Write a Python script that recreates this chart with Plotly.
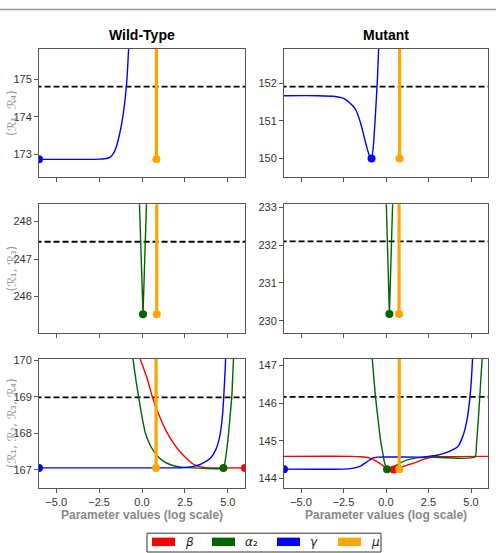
import plotly.graph_objects as go
from plotly.subplots import make_subplots

# ---------------- data ----------------
COL_TITLES = ["Wild-Type", "Mutant"]
ROW_LABELS = ["(ℛ₁, ℛ₄)", "(ℛ₁, ℛ₃)", "(ℛ₁, ℛ₂, ℛ₃, ℛ₄)"]
PARAMS = ["β", "α₂", "γ", "μ"]
X_TICKS = [-5.0, -2.5, 0.0, 2.5, 5.0]
X_TICK_LABELS = ["−5.0", "−2.5", "0.0", "2.5", "5.0"]

# thresholds (dashed lines)
THRESH = {(1, 1): 174.8, (1, 2): 151.91, (2, 1): 247.46, (2, 2): 232.10, (3, 1): 168.98, (3, 2): 146.17}

# Row 1, Wild-Type (R1,R4)
WT14_GAMMA_X = [-6.0, -4.0, -3.0, -2.5, -2.0, -1.85, -1.7, -1.5, -1.3, -1.1, -0.9, -0.78, -0.7]
WT14_GAMMA_Y = [172.87, 172.87, 172.87, 172.875, 172.9, 172.93, 173.0, 173.2, 173.55, 174.05, 174.85, 175.8, 176.6]
WT14_MU_X = [0.84, 0.84]
WT14_MU_Y = [172.87, 180.0]
WT14_DOTS = {"γ": (-6.0, 172.87), "μ": (0.84, 172.87)}

# Row 1, Mutant (R1,R4)
MU14_GAMMA_X = [-6.0, -4.0, -3.0, -2.5, -2.0, -1.75, -1.5, -1.3, -1.1, -0.95, -0.85, -0.75, -0.62, -0.5, -0.4]
MU14_GAMMA_Y = [151.67, 151.67, 151.65, 151.6, 151.42, 151.27, 150.95, 150.6, 150.25, 150.05, 150.0, 150.3, 151.18, 152.15, 153.3]
MU14_MU_X = [0.80, 0.80]
MU14_MU_Y = [150.0, 160.0]
MU14_DOTS = {"γ": (-0.85, 150.0), "μ": (0.80, 150.0)}

# Row 2, Wild-Type (R1,R3)
WT13_ALPHA_X = [-0.2, 0.06, 0.3]
WT13_ALPHA_Y = [249.2, 245.53, 249.05]
WT13_MU_X = [0.86, 0.86]
WT13_MU_Y = [245.53, 255.0]
WT13_DOTS = {"α₂": (0.06, 245.53), "μ": (0.86, 245.53)}

# Row 2, Mutant (R1,R3)
MU13_ALPHA_X = [-0.02, 0.2, 0.43]
MU13_ALPHA_Y = [233.7, 230.18, 233.7]
MU13_MU_X = [0.77, 0.77]
MU13_MU_Y = [230.18, 240.0]
MU13_DOTS = {"α₂": (0.2, 230.18), "μ": (0.77, 230.18)}

# Row 3, Wild-Type (R1,R2,R3,R4)
WT_ALL_BETA_X = [-0.3, -0.1, 0.3, 0.6, 0.9, 1.5, 2.25, 3.0, 3.5, 4.0, 6.0]
WT_ALL_BETA_Y = [170.3, 170.03, 169.5, 169.0, 168.6, 167.98, 167.47, 167.15, 167.07, 167.05, 167.05]
WT_ALL_ALPHA_X = [-0.6, -0.5, -0.35, -0.2, 0.0, 0.2, 0.5, 0.85, 1.2, 1.7, 2.3, 3.0, 4.74, 4.85, 5.0, 5.12, 5.23, 5.33, 5.4]
WT_ALL_ALPHA_Y = [170.5, 169.95, 169.45, 169.0, 168.45, 168.0, 167.65, 167.4, 167.25, 167.13, 167.07, 167.05, 167.05, 167.25, 167.8, 168.4, 169.0, 170.04, 170.6]
WT_ALL_GAMMA_X = [-6.0, 0.0, 2.0, 2.5, 3.0, 3.5, 4.0, 4.3, 4.5, 4.65, 4.75, 4.85, 4.92]
WT_ALL_GAMMA_Y = [167.05, 167.05, 167.05, 167.06, 167.09, 167.17, 167.32, 167.55, 167.85, 168.3, 168.9, 169.8, 170.6]
WT_ALL_MU_X = [0.82, 0.82]
WT_ALL_MU_Y = [167.05, 175.0]
WT_ALL_DOTS = {"β": (6.0, 167.05), "α₂": (4.74, 167.05), "γ": (-6.0, 167.05), "μ": (0.82, 167.05)}

# Row 3, Mutant (R1,R2,R3,R4)
MU_ALL_BETA_X = [-6.0, -2.0, -1.5, -1.0, -0.6, -0.3, 0.0, 0.39, 0.7, 1.0, 1.4, 1.76, 2.2, 2.6, 3.0, 6.0]
MU_ALL_BETA_Y = [144.59, 144.59, 144.58, 144.55, 144.47, 144.38, 144.29, 144.24, 144.27, 144.32, 144.38, 144.43, 144.51, 144.56, 144.58, 144.59]
MU_ALL_ALPHA_X = [-0.9, -0.81, -0.62, -0.45, -0.33, -0.2, -0.1, 0.06, 0.3, 0.6, 0.9, 1.37, 1.8, 2.5, 5.23, 5.32, 5.42, 5.52, 5.6, 5.66, 5.72]
MU_ALL_ALPHA_Y = [147.6, 147.18, 146.18, 145.5, 145.04, 144.7, 144.45, 144.25, 144.27, 144.35, 144.43, 144.51, 144.55, 144.57, 144.57, 144.9, 145.5, 146.2, 146.8, 147.2, 147.7]
MU_ALL_GAMMA_X = [-6.0, -2.5, -2.0, -1.5, -1.1, -0.8, -0.5, 2.0, 2.5, 3.0, 3.5, 4.0, 4.25, 4.5, 4.64, 4.8, 4.94, 5.02, 5.09, 5.15]
MU_ALL_GAMMA_Y = [144.25, 144.25, 144.27, 144.33, 144.45, 144.54, 144.57, 144.57, 144.59, 144.62, 144.68, 144.78, 144.86, 145.1, 145.3, 145.65, 146.17, 146.6, 147.17, 147.7]
MU_ALL_MU_X = [0.78, 0.78]
MU_ALL_MU_Y = [144.25, 150.0]
MU_ALL_DOTS = {"β": (0.45, 144.24), "α₂": (0.06, 144.25), "γ": (-6.0, 144.25), "μ": (0.78, 144.25)}

Y_RANGES = {(1, 1): [172.39, 175.81], (1, 2): [149.5, 152.92],
            (2, 1): [245.03, 248.46], (2, 2): [229.68, 233.08],
            (3, 1): [166.51, 170.04], (3, 2): [143.76, 147.18]}

# ---------------- styling ----------------
COLORS = {"β": "#ff0000", "α₂": "#006400", "γ": "#0000ff", "μ": "#ffa500"}
W, H = 496, 553

fig = make_subplots(rows=3, cols=2)

x_dom = {1: [39 / W, 245 / W], 2: [284 / W, 488 / W]}
y_px = {1: (44, 174), 2: (201, 331), 3: (357, 487)}
y_dom = {r: [1 - b / H, 1 - t / H] for r, (t, b) in y_px.items()}


def curve(r, c, name, xs, ys, width=1.4, smooth=True):
    line = dict(color=COLORS[name], width=width)
    if smooth:
        line.update(shape="spline", smoothing=0.6)
    fig.add_trace(go.Scatter(x=xs, y=ys, mode="lines", line=line,
                             showlegend=False, hoverinfo="skip"), row=r, col=c)


def dots(r, c, d):
    for name, (x, y) in d.items():
        fig.add_trace(go.Scatter(x=[x], y=[y], mode="markers",
                                 marker=dict(color=COLORS[name], size=8),
                                 showlegend=False, hoverinfo="skip"), row=r, col=c)


def vline(r, c, xs, ys):
    curve(r, c, "μ", xs, ys, width=3.2, smooth=False)


def thresh(r, c):
    v = THRESH[(r, c)]
    fig.add_trace(go.Scatter(x=[-6.2, 6.2], y=[v, v], mode="lines",
                             line=dict(color="black", width=1.8, dash="6px,3px"),
                             showlegend=False, hoverinfo="skip"), row=r, col=c)


# row 1
thresh(1, 1)
curve(1, 1, "γ", WT14_GAMMA_X, WT14_GAMMA_Y)
vline(1, 1, WT14_MU_X, WT14_MU_Y)
dots(1, 1, WT14_DOTS)
thresh(1, 2)
curve(1, 2, "γ", MU14_GAMMA_X, MU14_GAMMA_Y)
vline(1, 2, MU14_MU_X, MU14_MU_Y)
dots(1, 2, MU14_DOTS)
# row 2
thresh(2, 1)
curve(2, 1, "α₂", WT13_ALPHA_X, WT13_ALPHA_Y, smooth=False)
vline(2, 1, WT13_MU_X, WT13_MU_Y)
dots(2, 1, WT13_DOTS)
thresh(2, 2)
curve(2, 2, "α₂", MU13_ALPHA_X, MU13_ALPHA_Y, smooth=False)
vline(2, 2, MU13_MU_X, MU13_MU_Y)
dots(2, 2, MU13_DOTS)
# row 3
thresh(3, 1)
curve(3, 1, "β", WT_ALL_BETA_X, WT_ALL_BETA_Y)
curve(3, 1, "α₂", WT_ALL_ALPHA_X, WT_ALL_ALPHA_Y)
curve(3, 1, "γ", WT_ALL_GAMMA_X, WT_ALL_GAMMA_Y)
vline(3, 1, WT_ALL_MU_X, WT_ALL_MU_Y)
dots(3, 1, WT_ALL_DOTS)
thresh(3, 2)
curve(3, 2, "β", MU_ALL_BETA_X, MU_ALL_BETA_Y)
curve(3, 2, "α₂", MU_ALL_ALPHA_X, MU_ALL_ALPHA_Y)
curve(3, 2, "γ", MU_ALL_GAMMA_X, MU_ALL_GAMMA_Y)
vline(3, 2, MU_ALL_MU_X, MU_ALL_MU_Y)
dots(3, 2, MU_ALL_DOTS)

FONT = "Liberation Sans, Arial, sans-serif"
axis_common = dict(showline=True, mirror=True, linecolor="#555", linewidth=1, ticks="outside",
                   ticklen=4, tickcolor="#555", showgrid=False, zeroline=False,
                   tickfont=dict(family=FONT, size=11, color="#333"))

for r in (1, 2, 3):
    for c in (1, 2):
        idx = (r - 1) * 2 + c
        xa = "xaxis" if idx == 1 else f"xaxis{idx}"
        ya = "yaxis" if idx == 1 else f"yaxis{idx}"
        fig.layout[xa].update(domain=x_dom[c], range=[-6.0, 6.0], tickvals=X_TICKS, ticktext=X_TICK_LABELS,
                              showticklabels=(r == 3), **axis_common)
        fig.layout[ya].update(domain=y_dom[r], range=Y_RANGES[(r, c)], dtick=1, tick0=0, **axis_common)


def px_x(v):
    return v / W


def px_y(v):
    return 1 - v / H


annotations = []
for c, t in zip((1, 2), COL_TITLES):
    annotations.append(dict(text="<b>" + t + "</b>", x=sum(x_dom[c]) / 2, y=px_y(30), xref="paper", yref="paper",
                            xanchor="center", yanchor="middle", showarrow=False,
                            font=dict(family=FONT, size=14, color="black")))
    annotations.append(dict(text="<b>Parameter values (log scale)</b>", x=sum(x_dom[c]) / 2, y=px_y(515),
                            xref="paper", yref="paper", xanchor="center", yanchor="middle", showarrow=False,
                            font=dict(family=FONT, size=12, color="#888")))
for r, lab in zip((1, 2, 3), ROW_LABELS):
    t, b = y_px[r]
    annotations.append(dict(text=lab, x=px_x(12), y=px_y((t + b) / 2), xref="paper", yref="paper",
                            xanchor="center", yanchor="middle", showarrow=False, textangle=-90,
                            font=dict(family="DejaVu Sans, sans-serif", size=12, color="#999")))

# manual legend (box, colour patches, labels)
shapes = [dict(type="line", xref="paper", yref="paper", x0=0, x1=1, y0=px_y(4.5), y1=px_y(4.5),
               line=dict(color="#999", width=1.5)),
          dict(type="rect", xref="paper", yref="paper", x0=px_x(147), x1=px_x(381), y0=px_y(552), y1=px_y(533),
               line=dict(color="#333", width=1), fillcolor="white")]
LEG_PATCH_X = [152, 212, 277, 338]
for name, x0 in zip(PARAMS, LEG_PATCH_X):
    shapes.append(dict(type="rect", xref="paper", yref="paper", x0=px_x(x0), x1=px_x(x0 + 23),
                       y0=px_y(546), y1=px_y(537.5), line=dict(width=0), fillcolor=COLORS[name]))
    base, sub = name[0], name[1:]
    annotations.append(dict(text="<i>" + base + "</i>" + sub, x=px_x(x0 + 31), y=px_y(542), xref="paper",
                            yref="paper", xanchor="left", yanchor="middle", showarrow=False,
                            font=dict(family="DejaVu Sans, sans-serif", size=12, color="#222")))

fig.update_layout(
    width=W, height=H, margin=dict(l=0, r=0, t=0, b=0),
    paper_bgcolor="white", plot_bgcolor="white",
    annotations=annotations, shapes=shapes,
    showlegend=False,
)

fig.write_html("out.html")
